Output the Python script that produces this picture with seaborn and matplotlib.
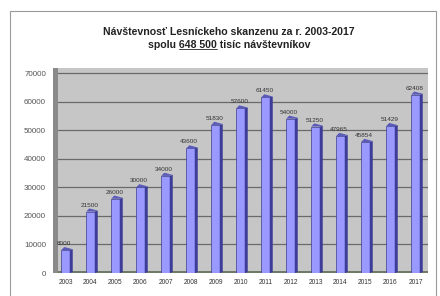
import numpy as np
import pandas as pd
import seaborn as sns
import matplotlib.pyplot as plt
from matplotlib.patches import Polygon, Rectangle

years = ['2003', '2004', '2005', '2006', '2007', '2008', '2009', '2010',
         '2011', '2012', '2013', '2014', '2015', '2016', '2017']
visitors = [8000, 21500, 26000, 30000, 34000, 43600, 51830, 57600,
            61450, 54000, 51250, 47965, 45854, 51429, 62408]
bar_labels = ['8000', '21500', '26000', '30000', '34000', '43600', '51830', '57600',
              '61450', '54000', '51250', '47965', '45854', '51429', '62408']
y_ticks = [0, 10000, 20000, 30000, 40000, 50000, 60000, 70000]

title_1 = 'Návštevnosť Lesníckeho skanzenu za r. 2003-2017'
title_2a = 'spolu '
title_2b = '648 500'
title_2c = ' tisíc návštevníkov'

df = pd.DataFrame({'year': years, 'visitors': visitors})

sns.set_style('white')
plt.rcParams['font.family'] = ['Liberation Sans', 'DejaVu Sans']

W, H = 440, 296
fig = plt.figure(figsize=(W / 100, H / 100), dpi=100)

# outer frame (runs off the bottom edge like the reference)
fig.patches.append(Rectangle((10 / W, -5 / H), 426 / W, (H - 11 + 5) / H, transform=fig.transFigure,
                             fill=False, edgecolor='#9a9a9a', linewidth=0.8))

ax = fig.add_axes([53 / W, (H - 273) / H, 375 / W, 205 / H])
ax.set_facecolor('#c6c6c6')

sns.barplot(data=df, x='year', y='visitors', color='#9999ff', width=0.34,
            edgecolor='#3d3d8f', linewidth=0.5, saturation=1, ax=ax, zorder=3)

ax.set_ylim(0, 71750)
ax.set_xlim(-0.5, len(years) - 0.5)
ax.set_yticks(y_ticks)
ax.set_yticklabels([str(t) for t in y_ticks])
ax.grid(axis='y', color='#6a6a6a', linewidth=0.9, zorder=1)
ax.set_xlabel('')
ax.set_ylabel('')
ax.tick_params(axis='y', labelsize=5.8, colors='#555555', length=2, width=0.6, pad=3)
ax.tick_params(axis='x', labelsize=4.8, colors='#333333', length=0, pad=4)
for s in ax.spines.values():
    s.set_visible(False)

# pseudo 3D side and top of each bar
dx = 0.12
dy = 1100
for p in list(ax.patches):
    x0 = p.get_x()
    w = p.get_width()
    h = p.get_height()
    side = Polygon([(x0 + w, 0), (x0 + w + dx, dy * 0.3), (x0 + w + dx, h + dy * 0.3), (x0 + w, h)],
                   closed=True, facecolor='#3d3d99', edgecolor='none', zorder=3)
    top = Polygon([(x0, h), (x0 + dx, h + dy), (x0 + w + dx, h + dy * 0.3), (x0 + w, h)],
                  closed=True, facecolor='#5a5ab8', edgecolor='none', zorder=3)
    ax.add_patch(side)
    ax.add_patch(top)

# value labels
for i, (v, lab) in enumerate(zip(visitors, bar_labels)):
    ax.text(i - 0.05, v + 1400, lab, ha='center', va='bottom', fontsize=4.6,
            color='#333333', zorder=4)

# floor and left wall
ax.add_patch(Rectangle((0, 0), 1, 0.012, transform=ax.transAxes,
                       facecolor='#6f7a66', edgecolor='none', zorder=2))
ax.add_patch(Rectangle((0, 0), 0.012, 1, transform=ax.transAxes,
                       facecolor='#8a8a8a', edgecolor='none', zorder=2))

# titles
tfs = 7.6
tx = 229 / W
fig.text(tx, 1 - 32 / H, title_1, ha='center', va='center', fontsize=tfs,
         fontweight='bold', color='#222222')
full = title_2a + title_2b + title_2c
t2 = fig.text(tx, 1 - 45 / H, full, ha='center', va='center', fontsize=tfs,
              fontweight='bold', color='#222222')
fig.canvas.draw()
r = fig.canvas.get_renderer()
bb = t2.get_window_extent(r)
tmp = fig.text(0, 0, title_2a, fontsize=tfs, fontweight='bold')
wa = tmp.get_window_extent(r).width
tmp.set_text(title_2a + title_2b)
wb = tmp.get_window_extent(r).width
tmp.remove()
yline = bb.y0 + 0.5
fig.add_artist(plt.Line2D([(bb.x0 + wa) / W, (bb.x0 + wb) / W], [yline / H, yline / H],
                          color='#222222', linewidth=0.6))

fig.savefig('out.png', dpi=100, facecolor='white')
